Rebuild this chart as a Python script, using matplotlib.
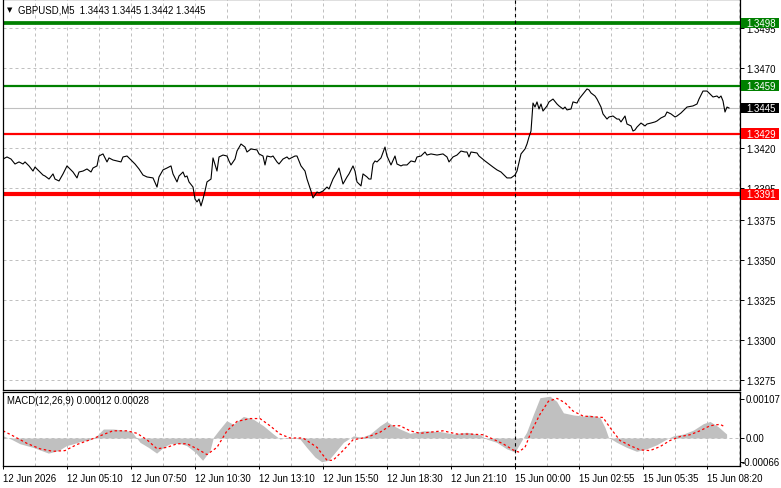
import matplotlib
matplotlib.use("Agg")
import matplotlib.pyplot as plt
from matplotlib.patches import Rectangle
from matplotlib.transforms import blended_transform_factory

plt.rcParams['font.family'] = ['Liberation Sans', 'DejaVu Sans']

# ---------------- data ----------------
title_text = "GBPUSD,M5  1.3443 1.3445 1.3442 1.3445"
macd_text = "MACD(12,26,9) 0.00012 0.00028"

price_bars = [0, 2, 4, 6, 8, 10, 11, 13, 15, 16, 18, 20, 21, 23, 25, 26, 28, 30, 32, 35,
              37, 38, 40, 42, 44, 45, 47, 48, 50, 52, 53, 55, 57, 59, 60, 62, 64, 66, 68, 70,
              72, 75, 77, 78, 80, 82, 84, 85, 87, 88, 90, 91, 92, 93, 95, 96, 97, 98, 99, 100,
              101, 102, 104, 105, 107, 108, 110, 112, 113, 114, 116, 117, 119, 121, 122, 124, 127, 128, 130, 131,
              132, 134, 135, 137, 138, 140, 142, 143, 146, 147, 149, 151, 152, 154, 155, 157, 158, 160, 162, 163,
              165, 167, 168, 170, 172, 173, 175, 176, 177, 179, 180, 182, 183, 184, 185, 186, 187, 189, 191, 192,
              194, 196, 197, 199, 200, 202, 204, 206, 207, 209, 211, 212, 214, 217, 220, 222, 223, 225, 227, 229,
              231, 232, 233, 234, 237, 238, 241, 243, 245, 247, 249, 251, 252, 254, 256, 257, 259, 261, 262, 263,
              264, 265, 266, 267, 268, 269, 270, 272, 273, 275, 277, 278, 280, 281, 282, 284, 285, 287, 288, 290,
              292, 293, 294, 296, 297, 299, 300, 302, 303, 305, 307, 308, 309, 311, 312, 314, 315, 316, 317, 319,
              321, 322, 324, 326, 327, 329, 331, 332, 334, 336, 337, 339, 341, 342, 345, 347, 348, 350, 352, 353,
              355, 357, 358, 359, 360, 361, 362, 363]
price_close = [1.34131, 1.34144, 1.34131, 1.34100, 1.34113, 1.34100, 1.34113, 1.34088, 1.34056, 1.34081,
               1.34056, 1.34031, 1.34025, 1.34006, 1.34038, 1.34006, 1.33994, 1.34038, 1.34088, 1.34050,
               1.34013, 1.34050, 1.34056, 1.34069, 1.34050, 1.34075, 1.34088, 1.34150, 1.34163, 1.34113,
               1.34138, 1.34125, 1.34119, 1.34113, 1.34144, 1.34150, 1.34125, 1.34100, 1.34069, 1.34031,
               1.34019, 1.34013, 1.33956, 1.34019, 1.34063, 1.34075, 1.34088, 1.34038, 1.33988, 1.34025,
               1.34050, 1.34019, 1.34025, 1.33988, 1.33956, 1.33881, 1.33863, 1.33881, 1.33838, 1.33881,
               1.33931, 1.33988, 1.34006, 1.34138, 1.34056, 1.34144, 1.34156, 1.34150, 1.34119, 1.34094,
               1.34131, 1.34181, 1.34225, 1.34206, 1.34175, 1.34194, 1.34188, 1.34163, 1.34150, 1.34094,
               1.34150, 1.34144, 1.34150, 1.34113, 1.34100, 1.34131, 1.34144, 1.34131, 1.34150, 1.34150,
               1.34088, 1.34056, 1.34006, 1.33931, 1.33888, 1.33925, 1.33919, 1.33931, 1.33956, 1.33944,
               1.34006, 1.34050, 1.34075, 1.33975, 1.34019, 1.34038, 1.34088, 1.34056, 1.33988, 1.33963,
               1.34038, 1.34019, 1.34006, 1.34006, 1.34100, 1.34119, 1.34113, 1.34138, 1.34206, 1.34150,
               1.34094, 1.34150, 1.34100, 1.34088, 1.34094, 1.34094, 1.34119, 1.34113, 1.34144, 1.34150,
               1.34175, 1.34156, 1.34163, 1.34156, 1.34163, 1.34144, 1.34113, 1.34144, 1.34156, 1.34181,
               1.34175, 1.34175, 1.34144, 1.34175, 1.34169, 1.34150, 1.34119, 1.34100, 1.34081, 1.34063,
               1.34050, 1.34025, 1.34013, 1.34013, 1.34031, 1.34056, 1.34163, 1.34194, 1.34225, 1.34269,
               1.34306, 1.34481, 1.34456, 1.34488, 1.34444, 1.34475, 1.34431, 1.34463, 1.34488, 1.34506,
               1.34475, 1.34463, 1.34444, 1.34456, 1.34438, 1.34444, 1.34488, 1.34481, 1.34506, 1.34538,
               1.34569, 1.34563, 1.34544, 1.34525, 1.34506, 1.34456, 1.34413, 1.34381, 1.34394, 1.34400,
               1.34381, 1.34381, 1.34363, 1.34400, 1.34350, 1.34338, 1.34306, 1.34313, 1.34331, 1.34356,
               1.34338, 1.34350, 1.34356, 1.34363, 1.34369, 1.34388, 1.34400, 1.34425, 1.34413, 1.34394,
               1.34400, 1.34419, 1.34444, 1.34456, 1.34463, 1.34475, 1.34506, 1.34556, 1.34556, 1.34544,
               1.34519, 1.34525, 1.34513, 1.34525, 1.34494, 1.34425, 1.34456, 1.34450]

hist_bars = [0, 4, 8.5, 15, 22.7, 27.7, 31.8, 35.2, 38.5, 43.5, 46.8, 50.2, 55.2, 60.2, 64.3, 68.5,
             72.7, 76.8, 80.2, 83.5, 88.5, 91.8, 96, 99.8, 103.5, 105.2, 107.7, 111.8, 115.2, 120.2,
             125.2, 130.2, 135.2, 138.5, 143.5, 148.5, 151.8, 156, 159.3, 162.7, 166.8, 170.2, 175.2,
             179.3, 183.5, 188.5, 191.8, 195.2, 198.5, 203.5, 210.2, 218.5, 225.2, 231.8, 238.5, 241.8,
             246.8, 251.8, 256, 259.3, 261.8, 265.2, 268.5, 273.5, 276.8, 280.2, 285.2, 290.2, 293.5,
             298.5, 301, 302.7, 306.8, 311.8, 316.8, 321.8, 326.8, 331.8, 335.2, 340.2, 345.2, 350.2,
             353.5, 357.7, 361.8]
hist_vals = [0.00006, -0.00003, -0.00016, -0.00026, -0.00042, -0.00035, -0.00021, -0.00016, -0.0001,
             -0.00005, 0.00006, 0.00025, 0.00025, 0.00022, 0.00018, -0.00012, -0.00026, -0.00042,
             -0.00026, -0.00016, -0.00015, -0.00021, -0.00039, -0.00062, -0.00035, 0.00002, 0.0002,
             0.00048, 0.00038, 0.0006, 0.00052, 0.00034, 0.00011, -0.00003, 0.00002, -0.00003, -0.00026,
             -0.00053, -0.00066, -0.00062, -0.00035, -0.00012, 0.00006, 0.00002, 0.00011, 0.00034,
             0.00046, 0.00034, 0.00025, 0.00013, 0.0002, 0.00018, 0.00011, 0.00016, 0.00009, -0.00003,
             -0.00012, -0.0003, -0.00039, -0.00007, 0.00016, 0.00066, 0.00112, 0.00116, 0.00102, 0.0007,
             0.00064, 0.00061, 0.00064, 0.00057, 0.00029, 0.00002, -0.00012, -0.00026, -0.00037, -0.0003,
             -0.00019, -0.00003, 0.00006, 0.00011, 0.00022, 0.0004, 0.00046, 0.00031, 0.00011]

signal_bars = [0, 5, 12, 18.5, 25, 31, 37, 43.5, 48.5, 55, 62, 67, 72, 77, 82, 87, 92, 97, 102, 107,
               112, 117, 123.5, 128.5, 133.5, 138.5, 143.5, 150, 157, 162, 165, 170, 175, 182, 188.5,
               193.5, 198.5, 203.5, 208.5, 215, 220, 227, 233.5, 240, 245, 250, 255, 257.7, 261, 264.3,
               268.5, 272.7, 277, 281, 285, 290, 295, 300, 303.5, 308.5, 313.5, 318.5, 323.5, 328.5,
               333.5, 338.5, 343.5, 348.5, 353.5, 358.5, 361]
signal_vals = [0.0002, 0.00006, -0.00015, -0.0003, -0.00037, -0.00035, -0.00018, -0.00005, 0.00006,
               0.0002, 0.0002, 0.00013, -0.00005, -0.0003, -0.00026, -0.00016, -0.00016, -0.0003,
               -0.00046, -0.00026, 0.0002, 0.00046, 0.00054, 0.00054, 0.00034, 0.00011, 0.0, 0.0,
               -0.00026, -0.00062, -0.00062, -0.00035, -0.00005, 0.00002, 0.00016, 0.00034, 0.00034,
               0.0002, 0.00013, 0.00017, 0.0002, 0.00011, 0.00011, 0.00009, -0.00003, -0.00016, -0.00033,
               -0.00039, -0.00026, 0.0002, 0.00066, 0.00102, 0.0011, 0.00098, 0.00075, 0.00061, 0.00059,
               0.00057, 0.00029, -0.00007, -0.00021, -0.00033, -0.00035, -0.00024, -0.00007, 0.00004,
               0.00009, 0.0002, 0.00034, 0.00038, 0.00031]

price_ticks = [1.3495, 1.3470, 1.3445, 1.3420, 1.3395, 1.3375, 1.3350, 1.3325, 1.3300, 1.3275]
macd_ticks = [0.00107, 0.0, -0.00066]
macd_tick_labels = ["0.00107", "0.00", "-0.00066"]

time_tick_bars = [0, 32, 64, 96, 128, 160, 192, 224, 256, 288, 320, 352]
time_tick_labels = ["12 Jun 2026", "12 Jun 05:10", "12 Jun 07:50", "12 Jun 10:30", "12 Jun 13:10",
                    "12 Jun 15:50", "12 Jun 18:30", "12 Jun 21:10", "15 Jun 00:00", "15 Jun 02:55",
                    "15 Jun 05:35", "15 Jun 08:20"]
session_break_bar = 256

# level lines: (price, color, linewidth)
levels = [(1.3498, '#008000', 2.7), (1.3459, '#008000', 1.6), (1.3429, '#ff0000', 1.6),
          (1.3391, '#ff0000', 3.0)]
bid_price = 1.3445

# ---------------- layout ----------------
W, H = 781, 489
fig = plt.figure(figsize=(W / 100, H / 100), dpi=100)
fig.patch.set_facecolor('white')


def frac(x0, y0, x1, y1):
    return [x0 / W, 1 - y1 / H, (x1 - x0) / W, (y1 - y0) / H]


ax = fig.add_axes(frac(3, 0, 740, 390.5))
ax2 = fig.add_axes(frac(3, 393, 740, 467))
AXW = 737.0

XMAX = 368.5
ax.set_xlim(0, XMAX)
ax.set_ylim(1.326906, 1.351313)
ax2.set_xlim(0, XMAX)
ax2.set_ylim(-0.000778, 0.001278)

FS = 6.9
grid_kw = dict(color='#c0c0c0', linestyle=(0, (3, 3)), linewidth=0.72)

for a in (ax, ax2):
    for s in a.spines.values():
        s.set_color('black')
        s.set_linewidth(0.9)
    a.yaxis.tick_right()
    a.tick_params(axis='y', direction='out', length=2.9, width=0.7, pad=1.5,
                  labelsize=FS, colors='black')
    a.set_xticks(range(0, 369, 16))
    a.set_axisbelow(True)

# main panel
ax.set_yticks(price_ticks)
ax.set_yticklabels([f"{t:.4f}" for t in price_ticks])
ax.tick_params(axis='x', length=0, labelbottom=False)
ax.grid(True, axis='both', **grid_kw)

# MACD panel
ax2.set_xticks(time_tick_bars)
ax2.set_xticks(range(16, 369, 32), minor=True)
ax2.set_xticklabels(time_tick_labels)
for lab in ax2.get_xticklabels():
    lab.set_horizontalalignment('left')
ax2.tick_params(axis='x', which='major', length=2.2, width=0.7, pad=2.5, labelsize=FS)
ax2.tick_params(axis='x', which='minor', length=0)
ax2.set_yticks(macd_ticks)
ax2.tick_params(axis='y', labelright=False)
tr2 = blended_transform_factory(ax2.transAxes, ax2.transData)
for v, s in zip(macd_ticks, macd_tick_labels):
    xpx = 741.5 if s.startswith('-') else 745.5
    ax2.text((xpx - 3) / AXW, v, s, transform=tr2, ha='left', va='center',
             fontsize=FS, color='black', clip_on=False)
ax2.grid(True, axis='x', which='both', **grid_kw)
ax2.axhline(0, zorder=0.5, **grid_kw)

# session separator
for a in (ax, ax2):
    a.axvline(session_break_bar, color='black', linestyle=(0, (3, 3)), linewidth=0.8, zorder=3)

# bid line
ax.axhline(bid_price, color='#c0c0c0', linewidth=0.8, zorder=1)

# levels
for p, c, lw in levels:
    ax.axhline(p, color=c, linewidth=lw, zorder=2)

# price line
ax.plot(price_bars, price_close, color='black', linewidth=0.8, zorder=4)

# MACD
ax2.fill_between(hist_bars, hist_vals, 0, color='#c0c0c0', linewidth=0, zorder=1)
ax2.plot(signal_bars, signal_vals, color='#ff0000', linestyle=(0, (2, 2)), linewidth=0.9, zorder=2)

# price labels on right axis
tr = blended_transform_factory(ax.transAxes, ax.transData)
ppx = (ax.get_ylim()[1] - ax.get_ylim()[0]) / 390.5
box_w = 38 / AXW
box_x = 738 / AXW
box_h = 10.5 * ppx
labels_to_draw = [(p, c) for p, c, _ in levels] + [(bid_price, 'black')]
for p, c in labels_to_draw:
    ax.add_patch(Rectangle((box_x, p - box_h / 2), box_w, box_h, transform=tr,
                           facecolor=c, edgecolor='none', clip_on=False, zorder=10))
    ax.text(743 / AXW, p, f"{p:.4f}", transform=tr, ha='left', va='center',
            fontsize=FS, color='white', zorder=11, clip_on=False)

# header texts
fig.text(7 / W, 1 - 10.5 / H, "▼", fontsize=5, ha='left', va='center',
         family=['DejaVu Sans'], color='black')
fig.text(18 / W, 1 - 10.5 / H, title_text, fontsize=FS, ha='left', va='center', color='black')
fig.text(7 / W, 1 - 401.5 / H, macd_text, fontsize=FS, ha='left', va='center', color='black')

fig.savefig('out.png', dpi=100, facecolor='white')
